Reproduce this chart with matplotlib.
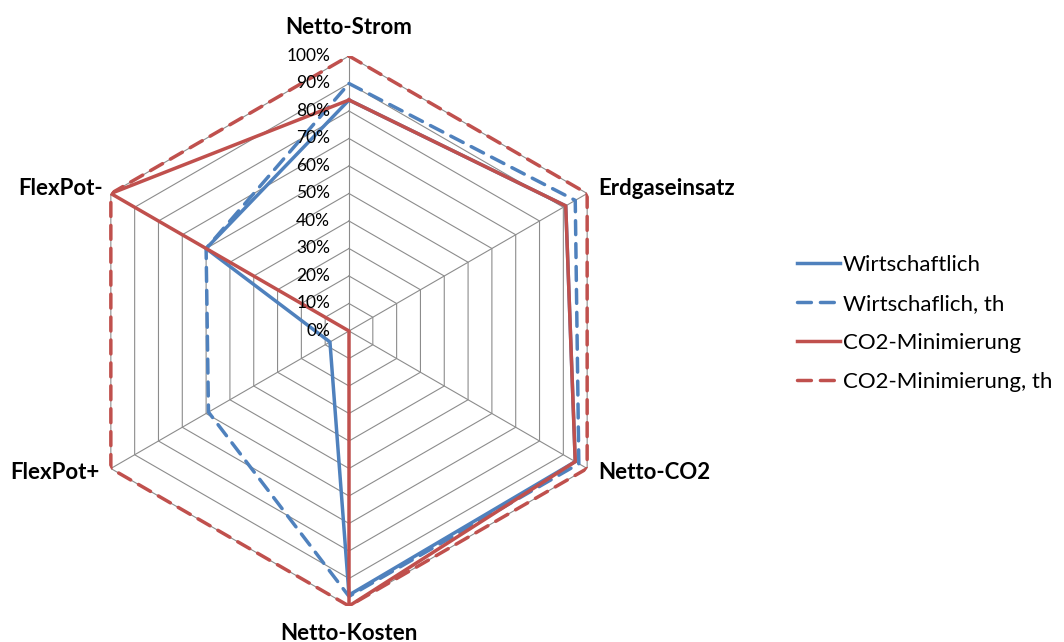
import numpy as np
import matplotlib.pyplot as plt

plt.rcParams['font.family'] = ['Lato', 'DejaVu Sans']

# categories clockwise, starting at the top
categories = ['Netto-Strom', 'Erdgaseinsatz', 'Netto-CO2',
              'Netto-Kosten', 'FlexPot+', 'FlexPot-']

wirtschaftlich = [0.84, 0.91, 0.95, 0.96, 0.08, 0.60]
wirtschaftlich_th = [0.90, 0.95, 0.965, 0.965, 0.59, 0.60]
co2_min = [0.84, 0.91, 0.95, 1.00, 0.00, 1.00]
co2_min_th = [1.00, 1.00, 1.00, 1.00, 1.00, 1.00]

series_names = ['Wirtschaftlich', 'Wirtschaflich, th',
                'CO2-Minimierung', 'CO2-Minimierung, th']
ticks = np.arange(0, 1.01, 0.1)

blue = '#4F81BD'
red = '#C0504D'
grid_color = '#8C8C8C'

n = len(categories)
theta = np.arange(n) * 2 * np.pi / n
theta_closed = np.append(theta, theta[0])


def closed(vals):
    return np.append(vals, vals[0])


W, H = 1064, 642
fig = plt.figure(figsize=(W / 100, H / 100), dpi=100)
cx, cy, R = 349, 642 - 331, 275
ax = fig.add_axes([(cx - R) / W, (cy - R) / H, 2 * R / W, 2 * R / H],
                  projection='polar')
ax.set_theta_zero_location('N')
ax.set_theta_direction(-1)
ax.set_ylim(0, 1)
ax.grid(False)
ax.set_xticks([])
ax.set_yticks([])
ax.spines['polar'].set_visible(False)
ax.patch.set_alpha(0)

# hexagonal grid
for r in ticks[1:]:
    ax.plot(theta_closed, [r] * (n + 1), color=grid_color, lw=0.8, zorder=1)
for t in theta:
    ax.plot([t, t], [0, 1], color=grid_color, lw=0.8, zorder=1)

# radial tick labels
for r in ticks:
    ax.annotate('%d%%' % round(r * 100), xy=(0, r), xytext=(-19, 0),
                textcoords='offset pixels', ha='right', va='center',
                fontsize=12.5, color='black', zorder=5)

# category labels
label_offsets = [(0, 29, 'center', 'center'),
                 (11, 5, 'left', 'center'),
                 (11, -4, 'left', 'center'),
                 (0, -17, 'center', 'top'),
                 (-11, -4, 'right', 'center'),
                 (-8, 5, 'right', 'center')]
for t, name, (dx, dy, ha, va) in zip(theta, categories, label_offsets):
    ax.annotate(name, xy=(t, 1), xytext=(dx, dy), textcoords='offset pixels',
                ha=ha, va=va, fontsize=16, fontweight='bold')

lw = 2.5
dash = (4.0, 2.6)
ax.plot(theta_closed, closed(wirtschaftlich), color=blue, lw=lw,
        label=series_names[0], zorder=3)
ax.plot(theta_closed, closed(wirtschaftlich_th), color=blue, lw=lw,
        dashes=dash, dash_capstyle='round', label=series_names[1], zorder=3)
ax.plot(theta_closed, closed(co2_min), color=red, lw=lw,
        label=series_names[2], zorder=3)
ax.plot(theta_closed, closed(co2_min_th), color=red, lw=lw,
        dashes=dash, dash_capstyle='round', label=series_names[3], zorder=3)

fig.legend(loc='upper left', bbox_to_anchor=(797 / W, 1 - 255 / H),
           frameon=False, fontsize=16, handlelength=1.95, handletextpad=0.1,
           labelspacing=0.85, borderpad=0, borderaxespad=0)

fig.savefig('out.png', dpi=100)
